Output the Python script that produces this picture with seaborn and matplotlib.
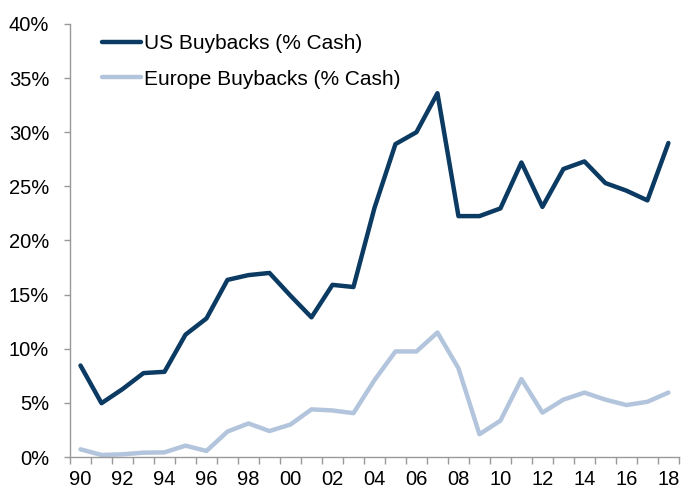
import seaborn as sns
import matplotlib.pyplot as plt
import matplotlib.ticker as mticker
import pandas as pd

# DATA (% of cash)
years = list(range(1990, 2019))
us_buybacks = [8.45, 4.97, 6.27, 7.75, 7.87, 11.3, 12.8, 16.36, 16.8, 17.0,
               14.9, 12.9, 15.9, 15.7, 23.0, 28.9, 30.0, 33.6, 22.25, 22.25,
               22.96, 27.2, 23.1, 26.6, 27.3, 25.3, 24.6, 23.7, 29.0]
europe_buybacks = [0.71, 0.19, 0.25, 0.4, 0.43, 1.05, 0.56, 2.35, 3.1, 2.4,
                   3.0, 4.4, 4.3, 4.05, 7.1, 9.75, 9.75, 11.5, 8.2, 2.1,
                   3.36, 7.2, 4.1, 5.3, 5.95, 5.3, 4.8, 5.1, 5.95]
series_names = ['US Buybacks (% Cash)', 'Europe Buybacks (% Cash)']
tick_labels = [str(y)[-2:] for y in years]

df = pd.DataFrame({'idx': list(range(len(years))) * 2,
                   'value': us_buybacks + europe_buybacks,
                   'series': [series_names[0]] * len(years) + [series_names[1]] * len(years)})

sns.set_style('white')
plt.rcParams['font.family'] = ['Liberation Sans', 'DejaVu Sans']
plt.rcParams['text.color'] = 'black'
plt.rcParams['xtick.labelcolor'] = 'black'
plt.rcParams['ytick.labelcolor'] = 'black'

fig, ax = plt.subplots(figsize=(6.83, 4.88), dpi=100)
fig.subplots_adjust(left=0.1025, right=0.994, top=0.951, bottom=0.0635)

sns.lineplot(data=df, x='idx', y='value', hue='series', hue_order=series_names,
             palette=['#0b3a62', '#b3c5dc'], linewidth=3.2, ax=ax)

ax.set_xlim(-0.5, len(years) - 0.5)
ax.set_ylim(0, 40)
ax.yaxis.set_major_locator(mticker.MultipleLocator(5))
ax.yaxis.set_major_formatter(mticker.FuncFormatter(lambda v, p: f'{v:.0f}%'))

# labels every other year, tick marks at category boundaries
ax.set_xticks(list(range(0, len(years), 2)))
ax.set_xticklabels(tick_labels[::2])
ax.set_xticks([i - 0.5 for i in range(len(years) + 1)], minor=True)
ax.tick_params(axis='x', which='major', length=0, pad=9.5, labelsize=14.5)
ax.tick_params(axis='x', which='minor', length=5, width=1, color='#999999', direction='out', bottom=True)
ax.tick_params(axis='y', length=4, width=1, color='#999999', direction='out', left=True, labelsize=14.5, pad=11)
ax.set_xlabel('')
ax.set_ylabel('')

sns.despine(ax=ax)
for side in ['left', 'bottom']:
    ax.spines[side].set_color('#999999')
    ax.spines[side].set_linewidth(1)

leg = ax.legend(loc='upper left', bbox_to_anchor=(0.035, 1.0), frameon=False, fontsize=15,
                handlelength=1.9, handletextpad=0.15, labelspacing=0.78, borderaxespad=0.1)

fig.savefig('out.png', dpi=100)
